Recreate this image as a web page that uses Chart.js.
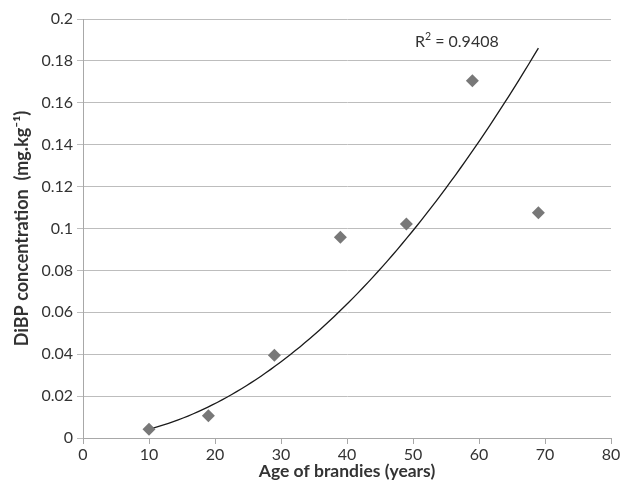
<!DOCTYPE html>
<html>
<head>
<meta charset="utf-8">
<script src="https://cdn.jsdelivr.net/npm/chart.js@4/dist/chart.umd.min.js"></script>
<style>
  html, body { margin: 0; padding: 0; background: #fff; }
  #wrap { width: 622px; height: 481px; position: relative; }
</style>
</head>
<body>
<div id="wrap"><canvas id="c" width="622" height="481"></canvas></div>
<script>
// ---- data ----
const ages = [10, 19, 29, 39, 49, 59, 69];
const dibp = [0.0042, 0.0106, 0.0395, 0.0958, 0.1021, 0.1705, 0.1075];
const xTickValues = [0, 10, 20, 30, 40, 50, 60, 70, 80];
const yTickValues = [0, 0.02, 0.04, 0.06, 0.08, 0.1, 0.12, 0.14, 0.16, 0.18, 0.2];
const xTitle = 'Age of brandies (years)';
const yTitle = 'DiBP concentration  (mg.kg\u207B\u00B9)';
const r2Text = '0.9408';
const r2Pos = [50.3, 0.1868]; // annotation anchor in data units

// ---- power trendline (least squares in log space, as a spreadsheet power trendline) ----
function powerFit(xs, ys) {
  const lx = xs.map(Math.log), ly = ys.map(Math.log);
  const n = xs.length;
  const mx = lx.reduce((a, b) => a + b, 0) / n;
  const my = ly.reduce((a, b) => a + b, 0) / n;
  let sxx = 0, sxy = 0;
  for (let i = 0; i < n; i++) { sxx += (lx[i] - mx) ** 2; sxy += (lx[i] - mx) * (ly[i] - my); }
  const b = sxy / sxx;
  const a = Math.exp(my - b * mx);
  return { a, b };
}
const fit = powerFit(ages, dibp);
const xMin = Math.min(...ages), xMax = Math.max(...ages);
const trend = [];
for (let i = 0; i <= 80; i++) {
  const x = xMin + (xMax - xMin) * i / 80;
  trend.push({ x, y: fit.a * Math.pow(x, fit.b) });
}

const textColor = '#333333';
const gridColor = '#bdbdbd';
const axisColor = '#a8a8a8';
const FONT = 'Lato, "Open Sans", "Liberation Sans", sans-serif';

const r2Plugin = {
  id: 'r2label',
  afterDatasetsDraw(chart) {
    const { ctx, scales } = chart;
    const x = scales.x.getPixelForValue(r2Pos[0]);
    const y = scales.y.getPixelForValue(r2Pos[1]);
    ctx.save();
    ctx.fillStyle = textColor;
    ctx.textBaseline = 'alphabetic';
    ctx.textAlign = 'left';
    ctx.font = '16px ' + FONT;
    ctx.fillText('R', x, y);
    let w = ctx.measureText('R').width;
    ctx.font = '10.5px ' + FONT;
    ctx.fillText('2', x + w, y - 6.5);
    w += ctx.measureText('2').width;
    ctx.font = '16px ' + FONT;
    ctx.fillText(' = ' + r2Text, x + w, y);
    ctx.restore();
  }
};

new Chart(document.getElementById('c'), {
  type: 'scatter',
  data: {
    datasets: [
      {
        label: 'DiBP',
        data: ages.map((a, i) => ({ x: a, y: dibp[i] })),
        pointStyle: 'rectRot',
        pointRadius: 6.5,
        pointHoverRadius: 6.5,
        backgroundColor: '#787878',
        borderColor: '#787878',
        borderWidth: 0,
        order: 1
      },
      {
        label: 'Power trend',
        type: 'line',
        data: trend,
        showLine: true,
        pointRadius: 0,
        borderColor: '#1a1a1a',
        borderWidth: 1.3,
        fill: false,
        tension: 0,
        order: 2
      }
    ]
  },
  options: {
    responsive: false,
    animation: false,
    devicePixelRatio: 1,
    layout: { padding: { left: 0, right: 11, top: 19, bottom: 0 } },
    plugins: { legend: { display: false }, tooltip: { enabled: false } },
    scales: {
      x: {
        type: 'linear',
        min: 0, max: 80,
        afterBuildTicks: (s) => { s.ticks = xTickValues.map(v => ({ value: v })); },
        afterFit: (s) => { s.height = 43; },
        ticks: { color: textColor, font: { family: FONT, size: 16 }, padding: 1, maxRotation: 0 },
        grid: { drawOnChartArea: false, drawTicks: true, tickLength: 6, color: axisColor },
        border: { color: axisColor, width: 1 },
        title: { display: true, text: xTitle, color: textColor, font: { family: FONT, size: 17.5, weight: 'bold' }, padding: { top: 0, bottom: -1 } }
      },
      y: {
        type: 'linear',
        min: 0, max: 0.2,
        afterBuildTicks: (s) => { s.ticks = yTickValues.map(v => ({ value: v })); },
        afterFit: (s) => { s.width = 83; },
        ticks: { color: textColor, font: { family: FONT, size: 16 }, padding: 4,
                 callback: (v) => String(parseFloat(Number(v).toFixed(4))) },
        grid: { color: gridColor, tickLength: 6, drawTicks: true },
        border: { color: axisColor, width: 1 },
        title: { display: true, text: yTitle, color: textColor, font: { family: FONT, size: 18, weight: 'bold' }, padding: { top: 11, bottom: 0 } }
      }
    }
  },
  plugins: [r2Plugin]
});
</script>
</body>
</html>
